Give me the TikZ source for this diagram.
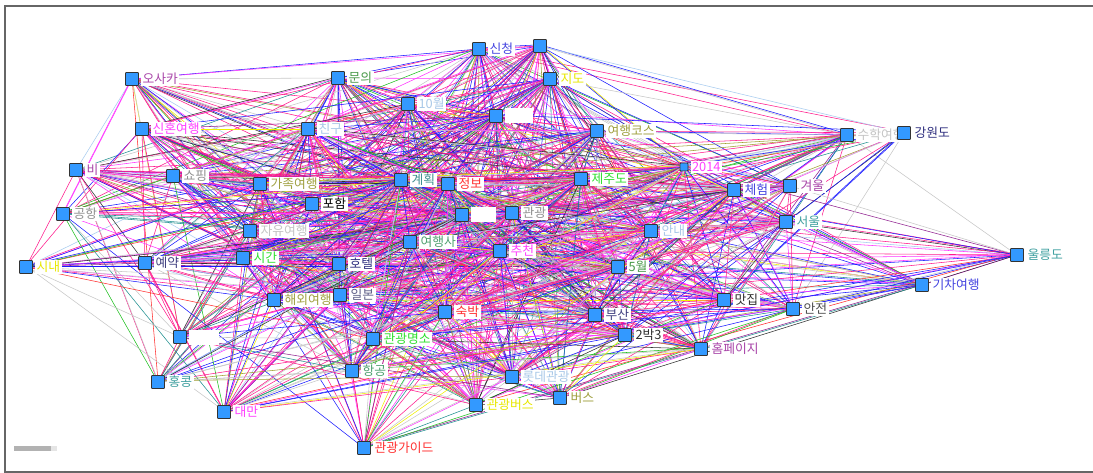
\documentclass[tikz,border=0pt]{standalone}
\usepackage{fontspec}
\newfontfamily\kr{Noto Sans CJK KR}
\usetikzlibrary{backgrounds}
\definecolor{nodeblue}{HTML}{3399FF}
\definecolor{ep}{HTML}{FF1A8C}
\definecolor{em}{HTML}{FF33FF}
\definecolor{eb}{HTML}{1A1AFF}
\definecolor{egr}{HTML}{C8C8C8}
\definecolor{et}{HTML}{209090}
\definecolor{elb}{HTML}{A8CCF0}
\definecolor{eg}{HTML}{20C020}
\definecolor{eo}{HTML}{A0A030}
\definecolor{epu}{HTML}{902090}
\definecolor{ey}{HTML}{F0F000}
\definecolor{er}{HTML}{FF3030}
\definecolor{ek}{HTML}{303030}
\definecolor{lpur}{HTML}{A844A8}
\definecolor{lgrn}{HTML}{4A9A4A}
\definecolor{lblu}{HTML}{4444E0}
\definecolor{lyel}{HTML}{E8E800}
\definecolor{lsky}{HTML}{A8C8E8}
\definecolor{loli}{HTML}{A0A040}
\definecolor{llg}{HTML}{C4C4C4}
\definecolor{lnavy}{HTML}{303080}
\definecolor{lmag}{HTML}{FF40FF}
\definecolor{lgray}{HTML}{909090}
\definecolor{lslate}{HTML}{404080}
\definecolor{lbgrn}{HTML}{30E030}
\definecolor{lteal}{HTML}{409090}
\definecolor{lteal2}{HTML}{40A0A0}
\definecolor{lred}{HTML}{FF3030}
\definecolor{ldark}{HTML}{303030}
\definecolor{lsg}{HTML}{50A070}
\definecolor{lsl2}{HTML}{606088}
\tikzset{
  sq/.style={draw=black!80, fill=nodeblue, minimum size=13pt, inner sep=0pt, line width=0.8pt, rounded corners=0.8pt},
  lb/.style={fill=white, inner xsep=1.5pt, inner ysep=1.2pt, font=\kr\fontsize{12.8}{13}\selectfont},
  blank/.style={lb, minimum height=15pt},
  edge/.style={line width=0.55pt},
  frame/.style={draw=black!60, line width=1.2pt},
  every label/.style={label distance=2pt}
}
\pgfmathdeclarerandomlist{ecols}{{ep}{ep}{ep}{ep}{ep}{ep}{ep}{ep}{em}{em}{em}{em}{eb}{eb}{eb}{eb}{eb}{egr}{egr}{egr}{egr}{et}{et}{elb}{elb}{eg}{eo}{epu}{ey}{er}{ek}}
\def\W{{0.6,0.75,0.75,0.7,0.7,0.75,0.85,0.75,0.6,0.4,0.7,0.8,0.55,0.7,0.8,0.85,0.5,0.8,0.45,0.7,0.8,0.85,0.8,0.8,0.9,0.9,0.9,0.9,0.85,0.7,0.85,0.9,0.9,0.85,0.8,0.7,0.75,0.4,0.5,0.75,0.6,0.65,0.85,0.8,0.8,0.8,0.7,0.7,0.6,0.6,0.45,0.55,0.45,0.5}}
\begin{document}
\begin{tikzpicture}[x=1pt,y=-1pt]
\useasboundingbox (0,0) rectangle (1093,473);
\node[sq,label={[lb,text=lpur]east:오사카}] (n1) at (132,79) {};
\node[sq,label={[lb,text=lgrn]east:문의}] (n2) at (338,78) {};
\node[sq,label={[lb,text=lblu]east:신청}] (n3) at (479,49) {};
\node[sq] (n4) at (540,46) {};
\node[sq,label={[lb,text=lyel]east:지도}] (n5) at (550,79) {};
\node[sq,label={[lb,text=lsky]east:10월}] (n6) at (408,104) {};
\node[sq,label={[blank,minimum width=28pt]east:{}}] (n7) at (496,116) {};
\node[sq,label={[lb,text=loli]east:여행코스}] (n8) at (597,131) {};
\node[sq,label={[lb,text=llg]east:수학여행}] (n9) at (847,135) {};
\node[sq,label={[lb,text=lnavy]east:강원도}] (n10) at (904,133) {};
\node[sq,label={[lb,text=lmag]east:신혼여행}] (n11) at (142,129) {};
\node[sq,label={[lb,text=lsky]east:친구}] (n12) at (308,129) {};
\node[sq,label={[lb,text=lpur]east:비}] (n13) at (76,170) {};
\node[sq,label={[lb,text=lgray]east:쇼핑}] (n14) at (173,176) {};
\node[sq,label={[lb,text=loli]east:가족여행}] (n15) at (260,184) {};
\node[sq,label={[lb,text=black]east:포함}] (n16) at (312,204) {};
\node[sq,label={[lb,text=lgray]east:공항}] (n17) at (63,214) {};
\node[sq,label={[lb,text=llg]east:자유여행}] (n18) at (250,231) {};
\node[sq,label={[lb,text=lyel]east:시내}] (n19) at (26,267) {};
\node[sq,label={[lb,text=lslate]east:예약}] (n20) at (145,263) {};
\node[sq,label={[lb,text=lbgrn]east:시간}] (n21) at (243,258) {};
\node[sq,label={[lb,text=lnavy]east:호텔}] (n22) at (339,264) {};
\node[sq,label={[lb,text=lsl2]east:일본}] (n24) at (340,295) {};
\node[sq,label={[lb,text=loli]east:해외여행}] (n23) at (274,300) {};
\node[sq,label={[lb,text=lteal]east:계획}] (n25) at (401,180) {};
\node[sq,label={[lb,text=lred]east:정보}] (n26) at (448,184) {};
\node[sq,label={[blank,minimum width=25pt]east:{}}] (n27) at (462,215) {};
\node[sq,label={[lb,text=lgray]east:관광}] (n28) at (512,213) {};
\node[sq,label={[lb,text=lbgrn]east:제주도}] (n29) at (581,179) {};
\node[sq,minimum size=8pt,label={[lb,text=lmag]east:2014}] (n30) at (684,167) {};
\node[sq,label={[lb,text=lsky]east:안내}] (n31) at (651,231) {};
\node[sq,label={[lb,text=lsg]east:여행사}] (n32) at (410,242) {};
\node[sq,label={[lb,text=lmag]east:추천}] (n33) at (500,251) {};
\node[sq,label={[lb,text=lgrn]east:5월}] (n34) at (618,267) {};
\node[sq,label={[lb,text=lblu]east:체험}] (n35) at (734,190) {};
\node[sq,label={[lb,text=lpur]east:겨울}] (n36) at (790,186) {};
\node[sq,label={[lb,text=lteal2]east:서울}] (n37) at (786,222) {};
\node[sq,label={[lb,text=lteal2]east:울릉도}] (n38) at (1017,255) {};
\node[sq,label={[lb,text=lblu]east:기차여행}] (n39) at (922,285) {};
\node[sq,label={[lb,text=ldark]east:맛집}] (n40) at (724,300) {};
\node[sq,label={[lb,text=black!70]east:안전}] (n41) at (793,309) {};
\node[sq,label={[lb,text=lpur]east:홈페이지}] (n42) at (701,349) {};
\node[sq,label={[lb,text=lred]east:숙박}] (n43) at (445,312) {};
\node[sq,label={[lb,text=lslate]east:부산}] (n44) at (595,315) {};
\node[sq,label={[lb,text=ldark]east:2박3}] (n45) at (625,335) {};
\node[sq,label={[lb,text=lbgrn]east:관광명소}] (n46) at (373,339) {};
\node[sq,label={[lb,text=lsg]east:항공}] (n47) at (352,371) {};
\node[sq,label={[lb,text=lsky]east:롯데관광}] (n48) at (512,377) {};
\node[sq,label={[lb,text=lyel]east:관광버스}] (n49) at (476,405) {};
\node[sq,label={[lb,text=loli]east:버스}] (n50) at (560,398) {};
\node[sq,label={[lb,text=lred]east:관광가이드}] (n51) at (364,448) {};
\node[sq,label={[blank,minimum width=30pt]east:{}}] (n52) at (180,337) {};
\node[sq,label={[lb,text=lteal2]east:홍콩}] (n53) at (158,382) {};
\node[sq,label={[lb,text=lmag]east:대만}] (n54) at (224,412) {};
\begin{scope}[on background layer]
\fill[white] (0,0) rectangle (1093,473);
\draw[frame] (1093,6) -- (5,6) -- (5,472) -- (1093,472);
\fill[black!30] (14,446) rectangle (51,451);
\fill[black!10] (51,446) rectangle (57,451);
\pgfmathsetseed{20140}
\foreach \i in {1,...,53}{
  \pgfmathtruncatemacro\ii{\i+1}
  \foreach \j in {\ii,...,54}{
    \pgfmathtruncatemacro\a{\i-1}
    \pgfmathtruncatemacro\b{\j-1}
    \pgfmathsetmacro\wa{\W[\a]}
    \pgfmathsetmacro\wb{\W[\b]}
    \pgfpointanchor{n\i}{center}\pgfgetlastxy{\xa}{\ya}
    \pgfpointanchor{n\j}{center}\pgfgetlastxy{\xb}{\yb}
    \pgfmathsetmacro\d{veclen(\xa-\xb,\ya-\yb)}
    \pgfmathsetmacro\p{1.4*\wa*\wb*max(0.2,1.35-\d/800)}
    \pgfmathsetmacro\pp{0.35*\p}
    \pgfmathsetmacro\r{rnd}
    \ifdim\r pt<\p pt
      \pgfmathrandomitem{\c}{ecols}
      \draw[edge,draw=\c] (n\i) -- (n\j);
    \fi
    \pgfmathsetmacro\q{rnd}
    \ifdim\q pt<\pp pt
      \pgfmathrandomitem{\c}{ecols}
      \draw[edge,draw=\c] ([yshift=1.2pt]n\i.center) -- ([yshift=1.2pt]n\j.center);
    \fi
  }
}
\end{scope}
\end{tikzpicture}
\end{document}
